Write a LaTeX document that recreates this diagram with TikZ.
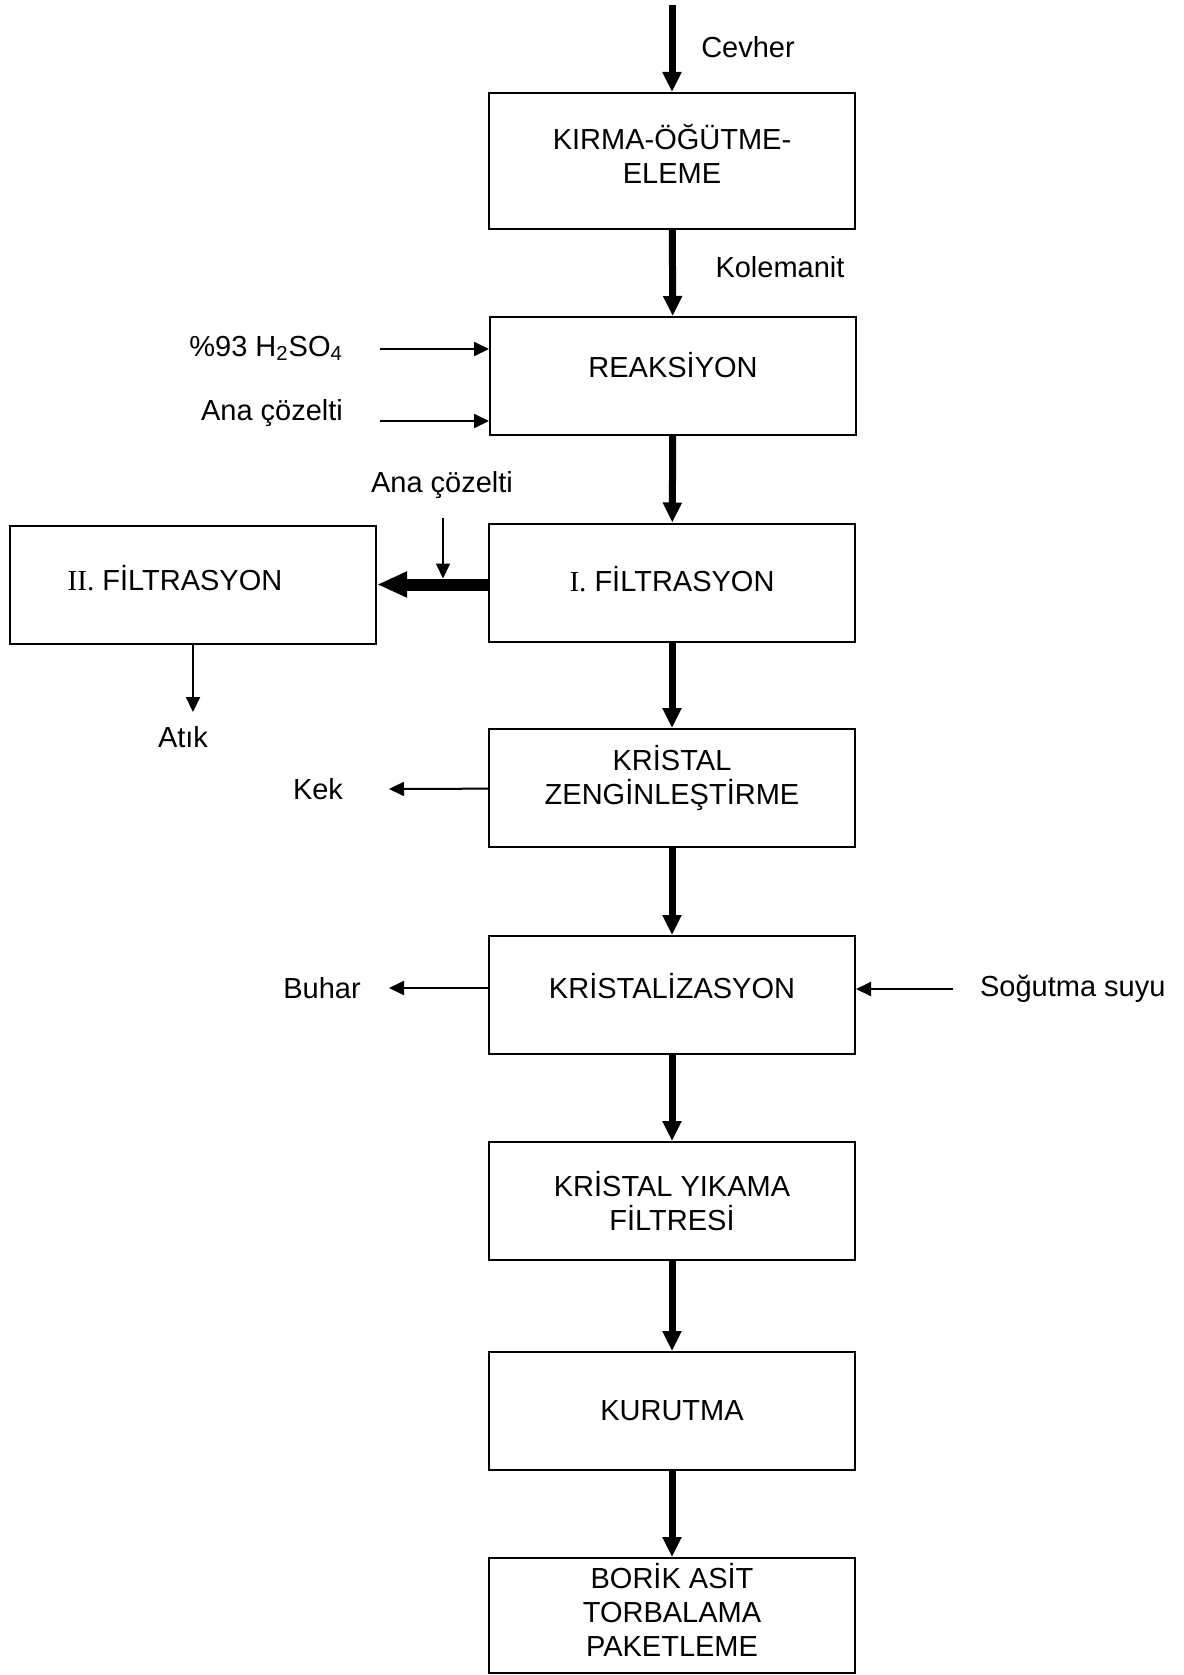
\documentclass[tikz,border=0pt]{standalone}
\usepackage{fontspec}
\setmainfont{Liberation Sans}
\newfontfamily\romfont{Liberation Serif}
\usetikzlibrary{arrows.meta}
% empty depth under a line, lifts the box text a little
\newcommand{\lowstrut}[1]{\rule[-#1]{0pt}{#1}}

\begin{document}
\begin{tikzpicture}[x=0.5pt, y=-0.5pt,
        font=\fontsize{14.5}{17}\selectfont,
        box/.style={draw, line width=1pt, minimum width=183pt, minimum height=59pt, align=center, inner sep=0pt},
        flow/.style={line width=3.5pt, -{Triangle[length=10pt, width=9pt]}},
        side/.style={line width=1pt, -{Triangle[length=7.5pt, width=7pt]}}]
            \useasboundingbox (0,0) rectangle (1183,1675);

            \coordinate (top) at (672,5);
            \coordinate (acidin) at (380,349);
            \coordinate (liqin) at (380,421);
            \coordinate (liqdrop) at (443,518);
            \coordinate (wasteout) at (193,712);
            \coordinate (cakeout) at (389,789);
            \coordinate (steamout) at (389,988);
            \coordinate (coolin) at (953,989);

            \node[box, minimum height=68pt] (kirma) at (672,161) {KIRMA-ÖĞÜTME-\\ELEME\lowstrut{7.4pt}};
            \node[box] (reak) at (673,376) {REAKSİYON\lowstrut{10.6pt}};
            \node[box] (filt1) at (672,582.5) {{\romfont I.} FİLTRASYON\lowstrut{4pt}};
            \node[box] (filt2) at (193,584.5) {{\romfont II.} FİLTRASYON\hspace*{18pt}\lowstrut{6.4pt}};
            \node[box] (zeng) at (672,788) {KRİSTAL\\ZENGİNLEŞTİRME\lowstrut{12.6pt}};
            \node[box] (krist) at (672,995) {KRİSTALİZASYON\lowstrut{8.6pt}};
            \node[box] (yika) at (672,1201) {KRİSTAL YIKAMA\\FİLTRESİ};
            \node[box] (kuru) at (672,1411) {KURUTMA};
            \node[box, minimum height=57.5pt] (borik) at (672,1615.5) {BORİK ASİT\\TORBALAMA\\PAKETLEME\lowstrut{5.4pt}};

            % main line
            \draw[flow] (top) -- (kirma);
            \draw[flow] (kirma) -- (reak);
            \draw[flow] (reak) -- (filt1);
            \draw[flow] (filt1) -- (zeng);
            \draw[flow] (zeng) -- (krist);
            \draw[flow] (krist) -- (yika);
            \draw[flow] (yika) -- (kuru);
            \draw[flow] (kuru) -- (borik);
            \draw[line width=6pt, -{Triangle[length=15pt, width=12pt]}] (filt1.west |- filt2) -- (filt2);

            % side streams
            \draw[side] (acidin) -- (acidin -| reak.west);
            \draw[side] (liqin) -- (liqin -| reak.west);
            \draw[side, shorten >=3pt] (liqdrop) -- (liqdrop |- filt2.east);
            \draw[side] (filt2) -- (wasteout);
            \draw[side] (zeng) -- (cakeout);
            \draw[side] (steamout -| krist.west) -- (steamout);
            \draw[side] (coolin) -- (coolin -| krist.east);

            \node (cevher) at (748,47) {Cevher};
            \node (kolemanit) at (780,267) {Kolemanit};
            \node[anchor=base east] (acid) at (350,356) {\%93 H\textsubscript{2}SO\textsubscript{4}};
            \node[anchor=base east] (liq1) at (350,420) {Ana çözelti};
            \node (liq2) at (442,485) {Ana çözelti};
            \node (atik) at (183,737) {Atık};
            \node (kek) at (318,789) {Kek};
            \node (buhar) at (322,988) {Buhar};
            \node[anchor=west] (cool) at (973,989) {Soğutma suyu};
    \end{tikzpicture}
\end{document}
